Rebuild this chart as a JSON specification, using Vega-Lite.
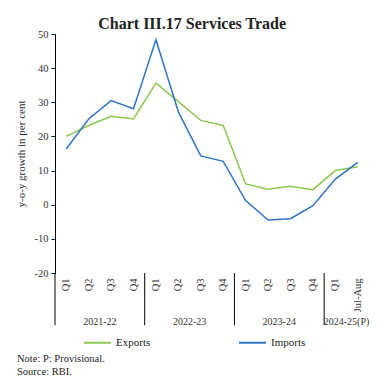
{
  "$schema": "https://vega.github.io/schema/vega-lite/v6.json",
  "background": "white",
  "padding": {"left": 15, "top": 16, "right": 11, "bottom": 8},
  "config": {
    "font": "Liberation Serif",
    "view": {"stroke": null},
    "axis": {"labelColor": "#333333", "titleColor": "#333333", "labelFont": "Liberation Serif", "titleFont": "Liberation Serif"},
    "legend": {"labelFont": "Liberation Serif"}
  },
  "title": {
    "text": ["Note: P: Provisional.", "Source: RBI."],
    "orient": "bottom",
    "anchor": "start",
    "fontSize": 10.5,
    "fontWeight": "normal",
    "color": "#222222",
    "offset": 6,
    "dx": 2,
    "lineHeight": 13
  },
  "datasets": {
    "main": [
      {"period": "2021-22|Q1", "series": "Exports", "value": 20.0},
      {"period": "2021-22|Q2", "series": "Exports", "value": 23.2},
      {"period": "2021-22|Q3", "series": "Exports", "value": 25.9},
      {"period": "2021-22|Q4", "series": "Exports", "value": 25.1},
      {"period": "2022-23|Q1", "series": "Exports", "value": 35.6},
      {"period": "2022-23|Q2", "series": "Exports", "value": 30.2},
      {"period": "2022-23|Q3", "series": "Exports", "value": 24.7},
      {"period": "2022-23|Q4", "series": "Exports", "value": 23.2},
      {"period": "2023-24|Q1", "series": "Exports", "value": 6.1},
      {"period": "2023-24|Q2", "series": "Exports", "value": 4.5},
      {"period": "2023-24|Q3", "series": "Exports", "value": 5.4},
      {"period": "2023-24|Q4", "series": "Exports", "value": 4.4},
      {"period": "2024-25(P)|Q1", "series": "Exports", "value": 10.0},
      {"period": "2024-25(P)|Jul-Aug", "series": "Exports", "value": 11.1},
      {"period": "2021-22|Q1", "series": "Imports", "value": 16.3},
      {"period": "2021-22|Q2", "series": "Imports", "value": 25.1},
      {"period": "2021-22|Q3", "series": "Imports", "value": 30.5},
      {"period": "2021-22|Q4", "series": "Imports", "value": 28.1},
      {"period": "2022-23|Q1", "series": "Imports", "value": 48.3},
      {"period": "2022-23|Q2", "series": "Imports", "value": 27.2},
      {"period": "2022-23|Q3", "series": "Imports", "value": 14.3},
      {"period": "2022-23|Q4", "series": "Imports", "value": 12.7},
      {"period": "2023-24|Q1", "series": "Imports", "value": 1.2},
      {"period": "2023-24|Q2", "series": "Imports", "value": -4.5},
      {"period": "2023-24|Q3", "series": "Imports", "value": -4.1},
      {"period": "2023-24|Q4", "series": "Imports", "value": -0.3},
      {"period": "2024-25(P)|Q1", "series": "Imports", "value": 7.5},
      {"period": "2024-25(P)|Jul-Aug", "series": "Imports", "value": 12.4}
    ],
    "groups": [
      {"year": "2021-22", "first": "2021-22|Q1", "mid": "2021-22|Q3"},
      {"year": "2022-23", "first": "2022-23|Q1", "mid": "2022-23|Q3"},
      {"year": "2023-24", "first": "2023-24|Q1", "mid": "2023-24|Q3"},
      {"year": "2024-25(P)", "first": "2024-25(P)|Q1", "mid": "2024-25(P)|Jul-Aug"}
    ]
  },
  "vconcat": [
    {
      "width": 314,
      "height": 239,
      "title": {
        "text": "Chart III.17 Services Trade",
        "fontSize": 16,
        "fontWeight": "bold",
        "font": "Liberation Serif",
        "color": "#222222",
        "anchor": "middle",
        "frame": "bounds",
        "offset": -3
      },
      "layer": [
        {
          "data": {"name": "main"},
          "mark": {"type": "line", "strokeWidth": 1.5},
          "encoding": {
            "x": {
              "field": "period",
              "type": "nominal",
              "sort": null,
              "bandPosition": 0.5,
              "scale": {"type": "band", "paddingInner": 0, "paddingOuter": 0},
              "axis": {
                "title": null,
                "domain": false,
                "ticks": false,
                "labelAngle": -90,
                "labelPadding": 5,
                "labelFontSize": 10.5,
                "labelExpr": "split(datum.value, '|')[1]"
              }
            },
            "y": {
              "field": "value",
              "type": "quantitative",
              "scale": {"domain": [-20, 50], "nice": false},
              "axis": {
                "title": "y-o-y growth in per cent",
                "titleFontWeight": "normal",
                "titleFontSize": 11,
                "titlePadding": 8,
                "values": [-20, -10, 0, 10, 20, 30, 40, 50],
                "tickCount": 8,
                "labelOverlap": false,
                "labelExpr": "'' + datum.value",
                "grid": false,
                "domainColor": "black",
                "tickColor": "black",
                "tickSize": 4,
                "labelFontSize": 10.5,
                "labelPadding": 3
              }
            },
            "color": {
              "field": "series",
              "type": "nominal",
              "scale": {"domain": ["Exports", "Imports"], "range": ["#8DC850", "#2E75C6"]},
              "legend": {
                "title": null,
                "orient": "none",
                "legendX": 28,
                "legendY": 294,
                "direction": "horizontal",
                "symbolType": "stroke",
                "symbolSize": 729,
                "symbolStrokeWidth": 2,
                "labelFontSize": 11,
                "labelColor": "#222222",
                "columnPadding": 84
              }
            }
          }
        },
        {
          "mark": {"type": "rule", "color": "black", "strokeWidth": 1},
          "encoding": {
            "y": {
              "datum": 0,
              "type": "quantitative",
              "axis": {
                "title": "y-o-y growth in per cent",
                "titleFontWeight": "normal",
                "titleFontSize": 11,
                "titlePadding": 8,
                "values": [-20, -10, 0, 10, 20, 30, 40, 50],
                "tickCount": 8,
                "labelOverlap": false,
                "labelExpr": "'' + datum.value",
                "grid": false,
                "domainColor": "black",
                "tickColor": "black",
                "tickSize": 4,
                "labelFontSize": 10.5,
                "labelPadding": 3
              }
            }
          }
        },
        {
          "data": {"name": "groups"},
          "mark": {"type": "rule", "color": "black", "strokeWidth": 1},
          "encoding": {
            "x": {"field": "first", "type": "nominal", "sort": null, "bandPosition": 0},
            "y": {"datum": -20, "type": "quantitative", "axis": {
                "title": "y-o-y growth in per cent",
                "titleFontWeight": "normal",
                "titleFontSize": 11,
                "titlePadding": 8,
                "values": [-20, -10, 0, 10, 20, 30, 40, 50],
                "tickCount": 8,
                "labelOverlap": false,
                "labelExpr": "'' + datum.value",
                "grid": false,
                "domainColor": "black",
                "tickColor": "black",
                "tickSize": 4,
                "labelFontSize": 10.5,
                "labelPadding": 3
              }},
            "y2": {"datum": -35.3}
          }
        },
        {
          "data": {"name": "groups"},
          "mark": {"type": "text", "fontSize": 10, "color": "#333333", "baseline": "alphabetic"},
          "encoding": {
            "x": {"field": "mid", "type": "nominal", "sort": null, "bandPosition": 0},
            "y": {"datum": -35.2, "type": "quantitative", "axis": {
                "title": "y-o-y growth in per cent",
                "titleFontWeight": "normal",
                "titleFontSize": 11,
                "titlePadding": 8,
                "values": [-20, -10, 0, 10, 20, 30, 40, 50],
                "tickCount": 8,
                "labelOverlap": false,
                "labelExpr": "'' + datum.value",
                "grid": false,
                "domainColor": "black",
                "tickColor": "black",
                "tickSize": 4,
                "labelFontSize": 10.5,
                "labelPadding": 3
              }},
            "text": {"field": "year"}
          }
        }
      ]
    }
  ]
}
